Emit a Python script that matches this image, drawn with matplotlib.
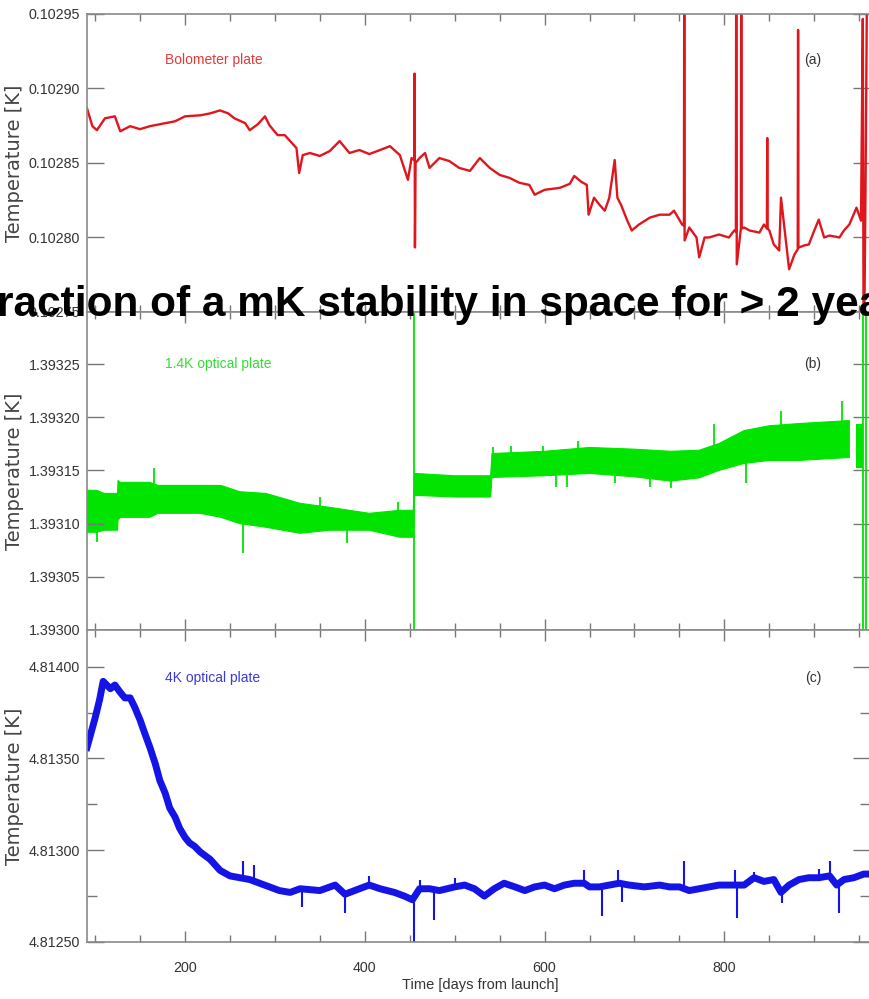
import matplotlib
matplotlib.use('Agg')
import matplotlib.pyplot as plt
from matplotlib.ticker import MultipleLocator, FormatStrFormatter

# ---- data ----
# (a) bolometer plate [K]
red_days = [91, 97, 102, 111, 122, 128, 139, 150, 161, 178,
            189, 200, 217, 228, 239, 248, 255, 267, 272, 281,
            289, 294, 303, 311, 319, 324, 327, 331, 339, 350,
            361, 372, 383, 394, 405, 417, 428, 439, 448, 452,
            455, 455.4, 455.8, 456.5, 461, 467, 472, 483, 494, 505,
            517, 528, 539, 550, 561, 572, 583, 589, 600, 617,
            628, 633, 641, 647, 649, 655, 661, 667, 672, 678,
            681, 685, 692, 697, 705, 717, 728, 739, 744, 753,
            755, 755.4, 755.8, 761, 769, 772, 778, 783, 794, 805,
            811, 812.8, 813.2, 813.8, 818.4, 818.8, 819.2, 822, 828, 839,
            844, 847.3, 847.7, 848.1, 850, 855, 861, 863, 868, 872,
            878, 881.6, 882, 882.4, 883, 889, 894, 900, 905, 911,
            917, 928, 933, 939, 947, 952, 954, 955, 957, 959,
            962]
red_temp = [0.1028867, 0.1028747, 0.1028720, 0.1028800, 0.1028813, 0.1028713, 0.1028747, 0.1028727, 0.1028747, 0.1028767,
            0.1028780, 0.1028813, 0.1028820, 0.1028833, 0.1028853, 0.1028833, 0.1028800, 0.1028767, 0.1028720, 0.1028760,
            0.1028813, 0.1028753, 0.1028687, 0.1028687, 0.1028633, 0.1028600, 0.1028433, 0.1028553, 0.1028567, 0.1028547,
            0.1028580, 0.1028647, 0.1028567, 0.1028587, 0.1028560, 0.1028587, 0.1028613, 0.1028553, 0.1028387, 0.1028533,
            0.1028520, 0.1029100, 0.1027933, 0.1028500, 0.1028533, 0.1028567, 0.1028467, 0.1028533, 0.1028513, 0.1028467,
            0.1028447, 0.1028533, 0.1028467, 0.1028420, 0.1028400, 0.1028367, 0.1028353, 0.1028287, 0.1028320, 0.1028333,
            0.1028360, 0.1028413, 0.1028373, 0.1028353, 0.1028153, 0.1028267, 0.1028220, 0.1028180, 0.1028267, 0.1028520,
            0.1028267, 0.1028220, 0.1028113, 0.1028047, 0.1028087, 0.1028133, 0.1028153, 0.1028153, 0.1028180, 0.1028087,
            0.1028080, 0.1030000, 0.1027980, 0.1028067, 0.1028000, 0.1027867, 0.1028000, 0.1028000, 0.1028020, 0.1028000,
            0.1028047, 0.1028040, 0.1030000, 0.1027820, 0.1028060, 0.1030000, 0.1028060, 0.1028067, 0.1028047, 0.1028033,
            0.1028087, 0.1028060, 0.1028667, 0.1028060, 0.1028047, 0.1027953, 0.1027913, 0.1028267, 0.1028000, 0.1027787,
            0.1027887, 0.1027920, 0.1029393, 0.1027930, 0.1027933, 0.1027947, 0.1027953, 0.1028047, 0.1028120, 0.1028000,
            0.1028013, 0.1028000, 0.1028047, 0.1028087, 0.1028200, 0.1028113, 0.1029467, 0.1027000, 0.1028300, 0.1030000,
            0.1030000]

# (b) 1.4K optical plate: noise band (upper / lower edge) [K]
green_days = [91, 102, 110, 125, 125.5, 128, 161, 170, 217, 240,
              261, 290, 328, 361, 405, 439, 454, 455.5, 500, 540,
              541.5, 600, 650, 700, 740, 772, 794, 822, 850, 883,
              939, 942, 946, 953]
green_hi = [1.3931313, 1.3931313, 1.3931284, 1.3931284, 1.3931406, 1.3931388, 1.3931388, 1.3931359, 1.3931359, 1.3931359,
            1.3931300, 1.3931284, 1.3931191, 1.3931153, 1.3931097, 1.3931125, 1.3931125, 1.3931472, 1.3931450, 1.3931450,
            1.3931659, 1.3931680, 1.3931716, 1.3931700, 1.3931680, 1.3931690, 1.3931753, 1.3931875, 1.3931920, 1.3931941,
            1.3931969, float('nan'), 1.3931941, 1.3931941]
green_lo = [1.3930919, 1.3930919, 1.3930938, 1.3930938, 1.3931031, 1.3931059, 1.3931059, 1.3931097, 1.3931097, 1.3931059,
            1.3931000, 1.3930966, 1.3930909, 1.3930938, 1.3930938, 1.3930872, 1.3930872, 1.3931266, 1.3931250, 1.3931250,
            1.3931434, 1.3931450, 1.3931472, 1.3931440, 1.3931400, 1.3931430, 1.3931500, 1.3931566, 1.3931594, 1.3931594,
            1.3931622, float('nan'), 1.3931528, 1.3931528]
green_spike_days = [102, 165, 264, 350, 380, 437, 455, 543, 563, 598, 613,
                    625, 637, 678, 717, 741, 789, 824, 863, 931, 954, 958]
green_spike_lo = [1.3930825, 1.3931250, 1.3930722, 1.3931050, 1.3930816, 1.3931000, 1.3930000, 1.3931500, 1.3931500, 1.3931550, 1.3931341,
                  1.3931341, 1.3931550, 1.3931378, 1.3931341, 1.3931331, 1.3931600, 1.3931378, 1.3931750, 1.3931800, 1.3930000, 1.3930000]
green_spike_hi = [1.3931000, 1.3931519, 1.3931000, 1.3931247, 1.3931000, 1.3931200, 1.3933500, 1.3931716, 1.3931734, 1.3931734, 1.3931550,
                  1.3931550, 1.3931781, 1.3931600, 1.3931550, 1.3931550, 1.3931941, 1.3931700, 1.3932063, 1.3932156, 1.3933500, 1.3933500]

# (c) 4K optical plate [K]
blue_days = [91, 100, 105, 109, 117, 122, 128, 133, 139, 144,
             150, 155, 161, 167, 172, 178, 183, 189, 194, 200,
             205, 211, 217, 228, 239, 250, 261, 272, 283, 294,
             305, 317, 328, 350, 367, 378, 394, 405, 417, 433,
             444, 453, 461, 472, 483, 500, 511, 522, 533, 544,
             555, 567, 578, 589, 600, 611, 622, 633, 644, 650,
             661, 672, 683, 694, 711, 728, 739, 750, 761, 772,
             783, 794, 811, 822, 833, 844, 855, 863, 872, 883,
             894, 905, 917, 925, 933, 944, 955, 961]
blue_temp = [4.81356, 4.81372, 4.81382, 4.81392, 4.81388, 4.81390, 4.81386, 4.81383, 4.81383, 4.81378,
             4.81371, 4.81364, 4.81356, 4.81347, 4.81338, 4.81331, 4.81323, 4.81318, 4.81312, 4.81307,
             4.81304, 4.81302, 4.81299, 4.81295, 4.81289, 4.81286, 4.81285, 4.81284, 4.81282, 4.81280,
             4.81278, 4.81277, 4.81279, 4.81278, 4.81281, 4.81276, 4.81279, 4.81281, 4.81279, 4.81277,
             4.81275, 4.81273, 4.81279, 4.81279, 4.81278, 4.81280, 4.81281, 4.81279, 4.81275, 4.81279,
             4.81282, 4.81280, 4.81278, 4.81280, 4.81281, 4.81279, 4.81281, 4.81282, 4.81282, 4.81280,
             4.81280, 4.81281, 4.81282, 4.81281, 4.81280, 4.81281, 4.81280, 4.81280, 4.81278, 4.81279,
             4.81280, 4.81281, 4.81281, 4.81281, 4.81285, 4.81283, 4.81284, 4.81277, 4.81281, 4.81284,
             4.81285, 4.81285, 4.81286, 4.81281, 4.81284, 4.81285, 4.81287, 4.81287]
blue_spike_days = [264, 277, 330, 378, 405, 455, 461, 477, 500, 644, 664,
                   682, 686, 755, 812, 814, 833, 864, 905, 918, 927]
blue_spike_lo = [4.81285, 4.81284, 4.81269, 4.81266, 4.81281, 4.81250, 4.81279, 4.81262, 4.81280, 4.81282, 4.81264,
                 4.81282, 4.81272, 4.81280, 4.81281, 4.81263, 4.81285, 4.81271, 4.81285, 4.81286, 4.81266]
blue_spike_hi = [4.81294, 4.81292, 4.81279, 4.81276, 4.81286, 4.81273, 4.81284, 4.81278, 4.81285, 4.81289, 4.81280,
                 4.81289, 4.81281, 4.81294, 4.81289, 4.81281, 4.81288, 4.81277, 4.81290, 4.81294, 4.81281]

panel_names = ['Bolometer plate', '1.4K optical plate', '4K optical plate']
panel_tags = ['(a)', '(b)', '(c)']
panel_ylims = [(0.10275, 0.10295), (1.39300, 1.393299), (4.81250, 4.81420)]

RED = '#e0161e'
GREEN = '#00e400'
BLUE = '#1414e6'
SANS = 'Liberation Sans'

fig = plt.figure(figsize=(8.7, 9.99), dpi=100)
rects = [[0.1, 0.6877, 0.9, 0.2983],
         [0.1, 0.3694, 0.9, 0.3183],
         [0.1, 0.0571, 0.9, 0.3123]]
axs = [fig.add_axes(r) for r in rects]

axs[0].plot(red_days, red_temp, color=RED, lw=1.7)

axs[1].fill_between(green_days, green_lo, green_hi, color=GREEN, lw=0.8)
axs[1].vlines(green_spike_days, green_spike_lo, green_spike_hi, color=GREEN, lw=1.3)

axs[2].plot(blue_days, blue_temp, color=BLUE, lw=5.0, solid_joinstyle='round')
axs[2].vlines(blue_spike_days, blue_spike_lo, blue_spike_hi, color=BLUE, lw=1.5)

label_cols = ['#e23a3a', '#33dd33', '#3a3ad8']
label_y = [0.846, 0.836, 0.846]
for i, ax in enumerate(axs):
    ax.set_xlim(91, 962)
    ax.set_ylim(*panel_ylims[i])
    ax.xaxis.set_major_locator(MultipleLocator(200))
    ax.xaxis.set_minor_locator(MultipleLocator(50))
    ax.yaxis.set_major_locator(MultipleLocator(0.00005 if i < 2 else 0.0005))
    if i == 2:
        ax.yaxis.set_minor_locator(MultipleLocator(0.00025))
    ax.yaxis.set_major_formatter(FormatStrFormatter('%.5f'))
    for s in ax.spines.values():
        s.set_color('#8a8a8a')
        s.set_linewidth(1.2)
    ax.tick_params(which='both', direction='in', top=True, right=True,
                   color='#777777', labelcolor='#333333', width=1.0)
    ax.tick_params(axis='y', which='major', length=12, pad=5)
    ax.tick_params(axis='y', which='minor', length=7)
    ax.tick_params(axis='x', which='major', length=8, pad=14)
    ax.tick_params(axis='x', which='minor', length=5)
    if i < 2:
        ax.tick_params(axis='x', labelbottom=False)
    for lab in ax.get_xticklabels() + ax.get_yticklabels():
        lab.set_family(SANS)
        lab.set_fontsize(10.3)
    ax.set_ylabel('Temperature [K]', fontsize=14, color='#444444', family='DejaVu Sans')
    ax.yaxis.set_label_coords(-0.080, 0.5)
    ax.text(0.0996, label_y[i], panel_names[i], transform=ax.transAxes, color=label_cols[i],
            fontsize=10, family=SANS, va='center', ha='left')
    ax.text(0.927, label_y[i], panel_tags[i], transform=ax.transAxes, color='#333333',
            fontsize=10, family=SANS, va='center', ha='center')

axs[2].set_xlabel('Time [days from launch]', fontsize=10.5, color='#333333', family=SANS)
axs[2].xaxis.set_label_coords(0.502, -0.115)

# slide title lying over the figure
fig.text(-0.004, 0.684, 'raction of a mK stability in space for > 2 yea', fontsize=30.5,
         fontweight='bold', family=SANS, color='black', va='baseline', ha='left',
         zorder=10)

fig.savefig('out.png', dpi=100)
